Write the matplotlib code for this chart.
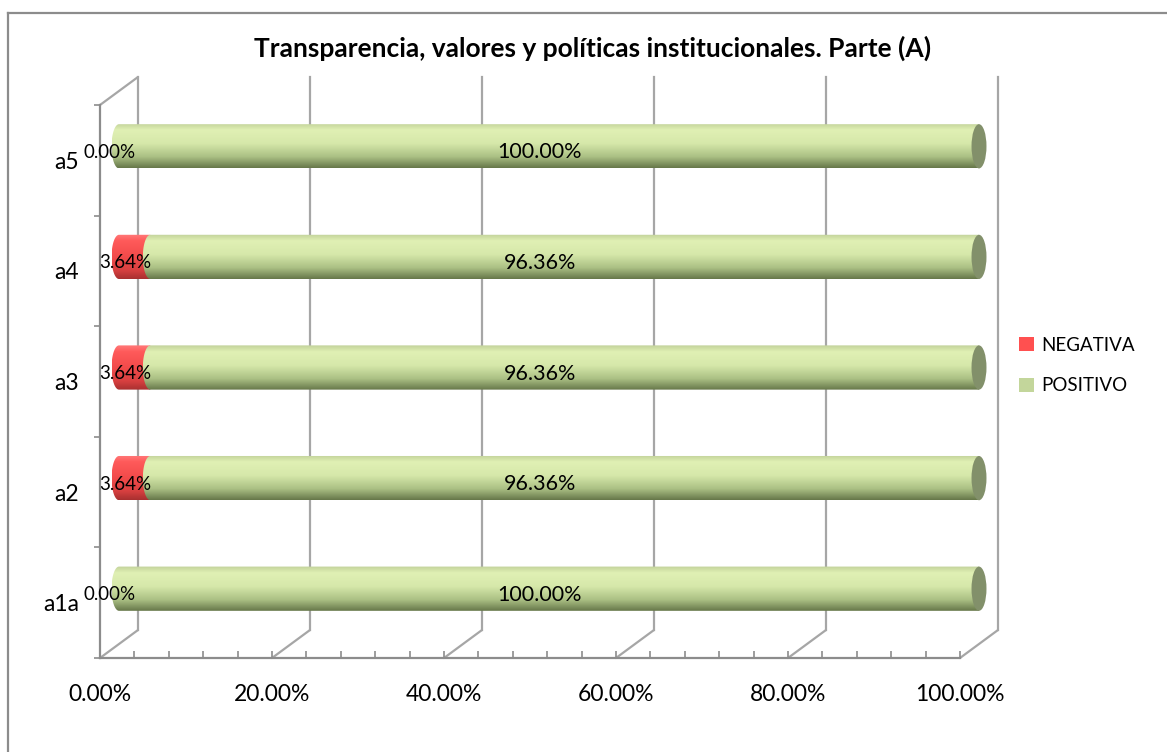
import numpy as np
import matplotlib
matplotlib.use('Agg')
import matplotlib.pyplot as plt
from matplotlib.colors import LinearSegmentedColormap
from matplotlib.patches import PathPatch, Ellipse, ConnectionPatch, Patch
from matplotlib.path import Path
from matplotlib.transforms import ScaledTranslation
from matplotlib.lines import Line2D

# Daten
categorias = ['a1a', 'a2', 'a3', 'a4', 'a5']
negativa = [0.0, 3.64, 3.64, 3.64, 0.0]
positivo = [100.0, 96.36, 96.36, 96.36, 100.0]
x_ticks = [0, 20, 40, 60, 80, 100]
series = ['NEGATIVA', 'POSITIVO']
titulo = 'Transparencia, valores y políticas institucionales. Parte (A)'

plt.rcParams['font.family'] = ['Lato', 'DejaVu Sans']

# Farbverläufe für die Zylinder (oben -> unten)
cmap_pos = LinearSegmentedColormap.from_list('pos', [
    (0.0, '#c2d29a'), (0.15, '#e0f0b4'), (0.45, '#d6e8aa'),
    (0.75, '#abc084'), (1.0, '#66774a')])
cmap_neg = LinearSegmentedColormap.from_list('neg', [
    (0.0, '#ff7a7a'), (0.15, '#ff5a5a'), (0.5, '#f24a4a'),
    (0.8, '#d84040'), (1.0, '#a83030')])
kappe_pos = '#82906a'
kappe_neg = '#c04040'

fig = plt.figure(figsize=(11.67, 7.52), dpi=100)
ax = fig.add_axes([100 / 1167, 94 / 752, 860 / 1167, 553 / 752])
ax.set_xlim(0, 100)
ax.set_ylim(-0.5, len(categorias) - 0.5)

# Pseudo-3D: Versatz für Balkenmitte und Rückwand (in Pixeln bei 100 dpi)
mitte = ax.transData + ScaledTranslation(0.19, 0.14, fig.dpi_scale_trans)
hinten = ax.transData + ScaledTranslation(0.38, 0.28, fig.dpi_scale_trans)
beschr = ax.transData + ScaledTranslation(0.10, 0.08, fig.dpi_scale_trans)

gitter_farbe = '#a6a6a6'
y0, y1 = ax.get_ylim()

# Rückwand-Gitterlinien und Bodenlinien
for t in x_ticks:
    ax.plot([t, t], [y0, y1], color=gitter_farbe, lw=1.6, transform=hinten,
            clip_on=False, zorder=1)
    ax.add_artist(ConnectionPatch((t, y0), (t, y0), coordsA=ax.transData,
                                  coordsB=hinten, color=gitter_farbe, lw=1.6,
                                  zorder=1))
# obere Kante der Seitenwand
ax.add_artist(ConnectionPatch((0, y1), (0, y1), coordsA=ax.transData,
                              coordsB=hinten, color=gitter_farbe, lw=1.6, zorder=1))


def zylinder(x0, x1, y, h, cmap, kappe, mit_kappe):
    rx = 0.87
    t = np.linspace(np.pi / 2, 3 * np.pi / 2, 40)
    bogen = np.column_stack([x0 + rx * np.cos(t), y + h / 2 * np.sin(t)])
    verts = [(x1, y + h / 2)] + [tuple(p) for p in bogen] + [(x1, y - h / 2), (x1, y + h / 2)]
    codes = [Path.MOVETO] + [Path.LINETO] * (len(verts) - 2) + [Path.CLOSEPOLY]
    form = PathPatch(Path(verts, codes), transform=mitte, facecolor='none',
                     edgecolor='none')
    verlauf = np.linspace(0, 1, 200).reshape(-1, 1)
    im = ax.imshow(verlauf, cmap=cmap, aspect='auto', origin='upper',
                   extent=[x0 - rx, x1, y - h / 2, y + h / 2],
                   transform=mitte, zorder=3, interpolation='bilinear')
    im.set_clip_box(fig.bbox)
    im.set_clip_path(form)
    if mit_kappe:
        ax.add_patch(Ellipse((x1, y), 2 * rx, h, transform=mitte,
                             facecolor=kappe, edgecolor='none', zorder=4,
                             clip_on=False))


hoehe = 0.4
for i, (n, p) in enumerate(zip(negativa, positivo)):
    if n > 0:
        zylinder(0, n, i, hoehe, cmap_neg, kappe_neg, False)
    zylinder(n, n + p, i, hoehe, cmap_pos, kappe_pos, True)
    ax.text(n / 2, i, f'{n:.2f}%', transform=beschr, ha='center', va='center',
            fontsize=13.5, color='black', zorder=6)
    ax.text((n + p) / 2, i, f'{p:.2f}%', transform=beschr, ha='center',
            va='center', fontsize=15.5, color='black', zorder=6)

ax.set_xlim(0, 100)
ax.set_ylim(-0.5, len(categorias) - 0.5)

# Achsen
for s in ['top', 'right']:
    ax.spines[s].set_visible(False)
for s in ['left', 'bottom']:
    ax.spines[s].set_color('#8c8c8c')
    ax.spines[s].set_linewidth(1.6)

ax.set_xticks(x_ticks)
ax.set_xticklabels([f'{t:.2f}%' for t in x_ticks])
ax.set_xticks(np.arange(0, 101, 4), minor=True)
ax.tick_params(axis='x', which='both', direction='in', length=5, width=1.2,
               color='#8c8c8c', pad=19, labelsize=16.5)

ax.set_yticks(range(len(categorias)))
ax.set_yticklabels(categorias)
ax.set_yticks(np.arange(-0.5, len(categorias), 1), minor=True)
ax.tick_params(axis='y', which='major', length=0, pad=15, labelsize=16.5)
ax.tick_params(axis='y', which='minor', direction='out', length=4, width=1.2,
               color='#8c8c8c')
ax.patch.set_visible(False)

# Titel
fig.text(0.508, 0.936, titulo, ha='center', va='center', fontsize=19,
         fontweight='bold')

# Legende
handles = [Patch(facecolor='#ff5050'), Patch(facecolor='#c3d69b')]
fig.legend(handles, series, loc='center left', bbox_to_anchor=(1002 / 1167, 0.514),
           frameon=False, fontsize=13.5, handlelength=0.8, handleheight=0.8,
           handletextpad=0.4, labelspacing=1.25)

# Rahmen (nur links und oben sichtbar)
fig.add_artist(Line2D([8 / 1167, 8 / 1167], [0, 1 - 13 / 752], color='#8c8c8c',
                      lw=1.6, transform=fig.transFigure))
fig.add_artist(Line2D([8 / 1167, 1], [1 - 13 / 752, 1 - 13 / 752], color='#8c8c8c',
                      lw=1.6, transform=fig.transFigure))

fig.savefig('out.png', dpi=100)
